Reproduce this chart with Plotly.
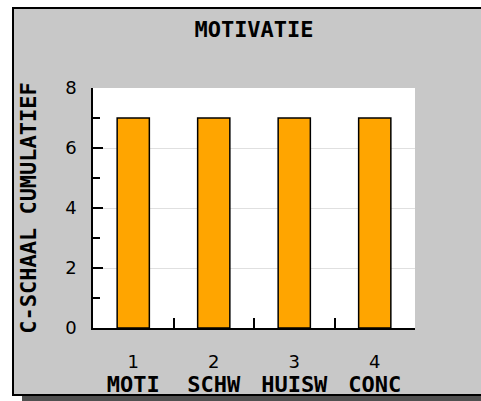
import plotly.graph_objects as go

# Data
numbers = ["1", "2", "3", "4"]
names = ["MOTI", "SCHW", "HUISW", "CONC"]
values = [7, 7, 7, 7]
title_text = "MOTIVATIE"
y_title = "C-SCHAAL CUMULATIEF"
y_ticks = [0, 2, 4, 6, 8]

W, H = 481, 401
L, R, T, B = 93, 415, 88, 328  # plot area pixels

def px(x):
    return (x - L) / (R - L)

def py(y):
    return (B - y) / (B - T)

BOLD = "DejaVu Sans Mono"
cats = [f"{n}<br><span style='font-family:{BOLD};font-weight:bold;font-size:22px'>{s}</span>"
        for n, s in zip(numbers, names)]

fig = go.Figure()
fig.add_trace(go.Bar(
    x=cats, y=values, width=0.4,
    marker=dict(color="#FFA500", line=dict(color="#000000", width=1.5)),
))

shapes = [
    # shadow
    dict(type="rect", xref="paper", yref="paper", layer="below",
         x0=px(22), x1=px(495), y0=py(396), y1=py(410),
         fillcolor="#505050", line=dict(width=0)),
    # frame
    dict(type="rect", xref="paper", yref="paper", layer="below",
         x0=px(13), x1=px(483), y0=py(8), y1=py(395),
         fillcolor="#C8C8C8", line=dict(color="#000000", width=2)),
    # plot area
    dict(type="rect", xref="paper", yref="paper", layer="below",
         x0=0, x1=1, y0=0, y1=1,
         fillcolor="#FFFFFF", line=dict(width=0)),
]

fig.update_layout(
    width=W, height=H,
    margin=dict(l=L, r=W - R, t=T, b=H - B, pad=0, autoexpand=False),
    paper_bgcolor="#FFFFFF", plot_bgcolor="#FFFFFF",
    showlegend=False,
    shapes=shapes,
    title=dict(text=title_text, x=0.5, xref="paper", xanchor="center",
               y=1 - 29 / H, yref="container", yanchor="middle",
               font=dict(family=BOLD, size=22, color="#000000", weight="bold")),
    font=dict(family="DejaVu Sans", size=18, color="#000000"),
)

fig.update_xaxes(
    type="category", showline=True, linecolor="#000000", linewidth=1.5,
    ticks="inside", tickson="boundaries", ticklen=10, tickcolor="#000000", tickwidth=1.5,
    showgrid=False, zeroline=False, automargin=False,
    tickfont=dict(family="DejaVu Sans", size=18, color="#000000"),
    ticklabelstandoff=17,
)

fig.update_yaxes(
    range=[0, 8], tickvals=y_ticks, ticktext=[str(v) for v in y_ticks],
    showline=True, linecolor="#000000", linewidth=1.5,
    ticks="inside", ticklen=10, tickcolor="#000000", tickwidth=1.5,
    minor=dict(ticks="inside", ticklen=7, tickcolor="#000000", tickwidth=1.5, dtick=1, tick0=0, showgrid=False),
    showgrid=True, gridcolor="#E0E0E0", gridwidth=1,
    zeroline=False, automargin=False,
    tickfont=dict(family="DejaVu Sans", size=18, color="#000000"),
    ticklabelstandoff=11,
    title=dict(text=y_title, standoff=22,
               font=dict(family=BOLD, size=22, color="#000000", weight="bold")),
)

fig.write_html(
    "out.html",
    config={"displayModeBar": False},
    post_script="document.body.style.margin='0';document.body.style.overflow='hidden';",
)
